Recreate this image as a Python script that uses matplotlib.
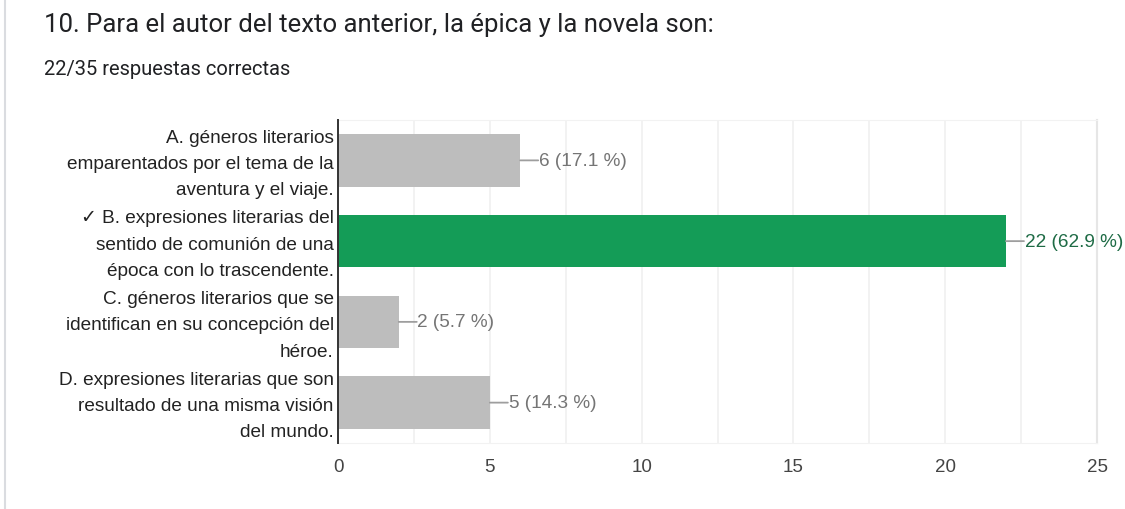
import matplotlib.pyplot as plt
from matplotlib.lines import Line2D
from matplotlib.transforms import ScaledTranslation

# datos
opciones = [
    "A. géneros literarios\nemparentados por el tema de la\naventura y el viaje.",
    "✓ B. expresiones literarias del\nsentido de comunión de una\népoca con lo trascendente.",
    "C. géneros literarios que se\nidentifican en su concepción del\nhéroe.",
    "D. expresiones literarias que son\nresultado de una misma visión\ndel mundo.",
]
respuestas = [6, 22, 2, 5]
porcentajes = ["17.1", "62.9", "5.7", "14.3"]
correcta = 1
x_ticks = [0, 5, 10, 15, 20, 25]

plt.rcParams['font.family'] = ['Liberation Sans', 'DejaVu Sans']

fig = plt.figure(figsize=(11.25, 5.1), dpi=100)
# area del grafico: x 338-1097 px, y 121-444 px
ax = fig.add_axes([338 / 1125, 1 - 444 / 510, 759 / 1125, 323 / 510])

colores = ['#149c57' if i == correcta else '#bdbdbd' for i in range(len(respuestas))]
pos = list(range(len(respuestas)))
ax.barh(pos, respuestas, height=0.65, color=colores, zorder=2)

ax.set_ylim(len(respuestas) - 0.5, -0.5)
ax.set_xlim(0, 25)
ax.set_xticks(x_ticks)
ax.set_xticks([2.5, 7.5, 12.5, 17.5, 22.5], minor=True)
ax.grid(axis='x', which='both', color='#f0f0f0', linewidth=1.2, zorder=0)
ax.tick_params(axis='x', which='both', length=0, labelsize=13.5, labelcolor='#444444', pad=11)
ax.set_yticks(pos)
ax.set_yticklabels(opciones, fontsize=13.7, color='#222222', linespacing=1.72, va='center')
ax.tick_params(axis='y', length=0, pad=3)
# bajar un poco las etiquetas para centrar la linea del medio con la barra
bajar = ScaledTranslation(0, -3 / 100, fig.dpi_scale_trans)
for lab in ax.get_yticklabels():
    lab.set_transform(lab.get_transform() + bajar)

for s in ['top', 'bottom']:
    ax.spines[s].set_color('#f2f2f2')
ax.spines['right'].set_color('#e6e6e6')
ax.spines['right'].set_linewidth(1.5)
ax.spines['left'].set_color('#333333')
ax.spines['left'].set_linewidth(1.4)
ax.spines['left'].set_zorder(3)

# etiquetas de valor con su linea
for i, (v, p) in enumerate(zip(respuestas, porcentajes)):
    col_txt = '#1e6b45' if i == correcta else '#757575'
    ax.annotate('', xy=(v, i), xytext=(13, 0), textcoords='offset points',
                arrowprops=dict(arrowstyle='-', color='#9e9e9e', lw=1.3,
                                shrinkA=0, shrinkB=0))
    ax.annotate(f"{v} ({p} %)", xy=(v, i), xytext=(13.5, 0), textcoords='offset points',
                va='center', ha='left', fontsize=13.7, color=col_txt)

# titulos
fig.text(44 / 1125, 1 - 25 / 510, "10. Para el autor del texto anterior, la épica y la novela son:",
         fontsize=18.5, color='#202124', va='center', ha='left', family=['Roboto', 'DejaVu Sans'])
fig.text(44 / 1125, 1 - 70 / 510, "22/35 respuestas correctas",
         fontsize=14.5, color='#202124', va='center', ha='left', family=['Roboto', 'DejaVu Sans'])

# borde izquierdo de la tarjeta
fig.add_artist(Line2D([5 / 1125, 5 / 1125], [0, 1], color='#dadce0', lw=1.5))

fig.savefig('out.png', dpi=100)
